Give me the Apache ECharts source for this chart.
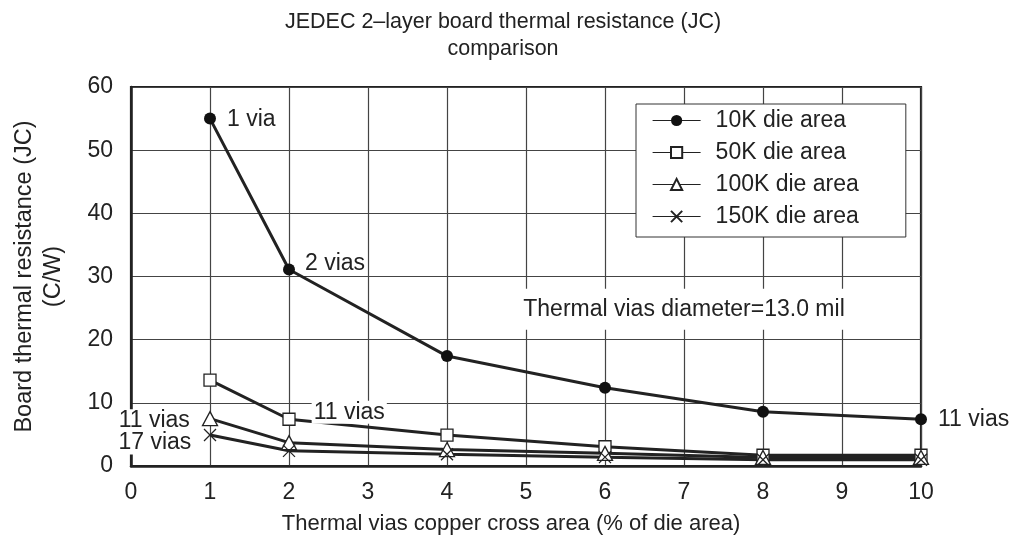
<!DOCTYPE html>
<html>
<head>
<meta charset="utf-8">
<script src="https://cdn.jsdelivr.net/npm/echarts@6/dist/echarts.min.js"></script>
<style>
  html, body { margin: 0; padding: 0; background: #fff; }
  #main { width: 1016px; height: 548px; }
</style>
</head>
<body>
<div id="main"></div>
<script>
// x: thermal vias copper cross area (% of die area)
const areaPct = [1, 2, 4, 6, 8, 10]
const die10K = [55, 31.1, 17.4, 12.4, 8.6, 7.4]
const die50K = [13.6, 7.4, 4.9, 3.05, 1.7, 1.7]
const die100K = [7.5, 3.7, 2.6, 2.0, 1.35, 1.35]
const die150K = [4.9, 2.4, 1.85, 1.4, 1.0, 1.0]
const seriesNames = ['10K die area', '50K die area', '100K die area', '150K die area']
const xTicks = [0, 1, 2, 3, 4, 5, 6, 7, 8, 9, 10]
const yTicks = [0, 10, 20, 30, 40, 50, 60]

const FONT = "'Liberation Sans', Arial, sans-serif"
const INK = '#222'
const FS = 23

let myChart = echarts.init(document.getElementById('main'))

function pairs (vals) {
  return areaPct.map((x, i) => [x, vals[i]])
}

// text next to a point, white box so grid lines break behind it
function viaLabel (text, position, offset) {
  return {
    show: true,
    formatter: text,
    position: position,
    offset: offset,
    distance: 10,
    fontSize: FS,
    color: INK,
    fontFamily: FONT,
    backgroundColor: '#fff',
    padding: [0, 2]
  }
}

let d10 = pairs(die10K).map(p => ({ value: p }))
d10[0].label = viaLabel('1 via', 'right', [-1, 1])
d10[1].label = viaLabel('2 vias', 'right', [-2, -6])
d10[5].label = viaLabel('11 vias', 'right', [-1, 0])

let d50 = pairs(die50K).map(p => ({ value: p }))
d50[1].label = viaLabel('11 vias', 'right', [6, -7])

let d100 = pairs(die100K).map(p => ({ value: p }))
d100[0].label = viaLabel('11 vias', 'left', [0, 2])

let d150 = pairs(die150K).map(p => ({ value: p }))
d150[0].label = viaLabel('17 vias', 'left', [0, 8])

const lineStyle = { color: INK, width: 3 }
const hollow = { color: '#fff', borderColor: INK, borderWidth: 1.3 }

let option = {
  animation: false,
  backgroundColor: '#fff',
  textStyle: { fontFamily: FONT, color: INK },
  title: {
    text: 'JEDEC 2\u2013layer board thermal resistance (JC)\ncomparison',
    left: 498,
    textAlign: 'center',
    top: 4,
    textStyle: { fontSize: 21.5, fontWeight: 'normal', color: INK, fontFamily: FONT, lineHeight: 27 }
  },
  legend: {
    orient: 'vertical',
    left: 636,
    top: 104,
    backgroundColor: '#fff',
    borderColor: '#333',
    borderWidth: 1,
    padding: [5, 47, 9, 16],
    itemGap: 9,
    itemWidth: 48,
    itemHeight: 14,
    lineStyle: { width: 1.2, color: INK },
    textStyle: { fontSize: FS, color: INK, fontFamily: FONT, padding: [0, 0, 0, 10] },
    data: seriesNames
  },
  grid: {
    left: 131,
    right: 95,
    top: 87,
    bottom: 82,
    show: true,
    borderColor: INK,
    borderWidth: 2.2
  },
  xAxis: {
    type: 'value',
    min: xTicks[0],
    max: xTicks[xTicks.length - 1],
    interval: 1,
    name: 'Thermal vias copper cross area (% of die area)',
    nameLocation: 'middle',
    nameGap: 47,
    nameTextStyle: { fontSize: 22, color: INK, fontFamily: FONT, padding: [0, 30, 0, 0] },
    axisLine: { show: true, lineStyle: { color: INK, width: 2.5 } },
    axisTick: { show: false },
    axisLabel: { fontSize: FS, color: INK, margin: 15, fontFamily: FONT },
    splitLine: { show: true, lineStyle: { color: '#444', width: 1.2 } }
  },
  yAxis: {
    type: 'value',
    min: yTicks[0],
    max: yTicks[yTicks.length - 1],
    interval: 10,
    name: 'Board thermal resistance (JC)\n(C/W)',
    nameLocation: 'middle',
    nameGap: 63,
    nameTextStyle: { fontSize: 23.5, color: INK, fontFamily: FONT, lineHeight: 29 },
    axisLine: { show: true, lineStyle: { color: INK, width: 2.5 } },
    axisTick: { show: false },
    axisLabel: { fontSize: FS, color: INK, margin: 18, fontFamily: FONT },
    splitLine: { show: true, lineStyle: { color: '#444', width: 1.2 } }
  },
  series: [
    {
      name: seriesNames[0],
      type: 'line',
      clip: false,
      data: d10,
      symbol: 'circle',
      symbolSize: 12,
      itemStyle: { color: '#111' },
      lineStyle: lineStyle,
      z: 5,
      markPoint: {
        symbol: 'circle',
        symbolSize: 0,
        silent: true,
        data: [{
          coord: [7, 24.8],
          label: {
            show: true,
            formatter: 'Thermal vias diameter=13.0 mil',
            position: 'inside',
            fontSize: FS,
            color: INK,
            fontFamily: FONT,
            backgroundColor: '#fff',
            padding: [9, 2]
          }
        }]
      }
    },
    {
      name: seriesNames[1],
      type: 'line',
      clip: false,
      data: d50,
      symbol: 'rect',
      symbolSize: 12,
      itemStyle: hollow,
      lineStyle: lineStyle,
      z: 4
    },
    {
      name: seriesNames[2],
      type: 'line',
      clip: false,
      data: d100,
      symbol: 'triangle',
      symbolSize: [15, 14],
      itemStyle: hollow,
      lineStyle: lineStyle,
      z: 4
    },
    {
      name: seriesNames[3],
      type: 'line',
      clip: false,
      data: d150,
      symbol: 'path://M0,0L10,10M10,0L0,10',
      symbolSize: 12,
      itemStyle: hollow,
      lineStyle: lineStyle,
      z: 4
    }
  ]
}

myChart.setOption(option, true)
</script>
</body>
</html>
